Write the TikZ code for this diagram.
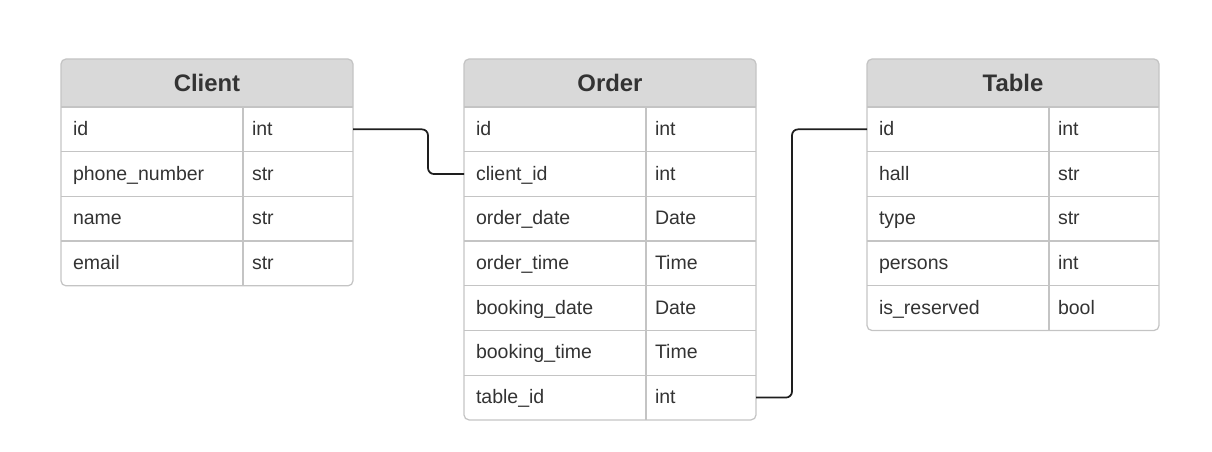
\documentclass[tikz,border=0pt]{standalone}
\usepackage{fontspec}
\setmainfont{Liberation Sans}
\usetikzlibrary{positioning}

\definecolor{hdrgray}{HTML}{D9D9D9}
\definecolor{linegray}{HTML}{C4C4C4}
\definecolor{txtgray}{HTML}{333333}
\definecolor{conngray}{HTML}{1E1E1E}

\tikzset{
  hdrcell/.style={anchor=north west, minimum width=5.84cm, minimum height=0.96cm, inner sep=0, outer sep=0, text=txtgray, font=\fontsize{13.6}{16}\selectfont\bfseries},
  fieldcell/.style={anchor=north west, minimum height=0.894cm, text width=3.16cm, text height=0.9em, text depth=0.2em, inner xsep=0.24cm, inner ysep=0, outer sep=0, align=left, text=txtgray, font=\fontsize{11.1}{13}\selectfont},
  typecell/.style={minimum height=0.894cm, text width=1.84cm, text height=0.9em, text depth=0.2em, inner xsep=0.18cm, inner ysep=0, outer sep=0, align=left, text=txtgray, font=\fontsize{11.1}{13}\selectfont},
  gridline/.style={linegray, line width=0.025cm},
  conn/.style={conngray, line width=0.035cm, rounded corners=0.12cm}
}

\begin{document}
\begin{tikzpicture}

\useasboundingbox (0,0) rectangle (24.24,-9.04);

% Client
\node[hdrcell] (client-hdr) at (1.22,-1.18) {Client};
\foreach \fname/\ftype [count=\i] in {id/int, phone\_number/str, name/str, email/str}{
  \node[fieldcell] (client-\i) at ([yshift={-(\i-1)*0.894cm}]client-hdr.south west) {\fname};
  \node[typecell, right=0 of client-\i] (client-\i t) {\ftype};
}
\fill[hdrgray] (client-hdr.south west) [rounded corners=0.1cm] -- (client-hdr.north west) -- (client-hdr.north east) [sharp corners] -- (client-hdr.south east) -- cycle;
\node[hdrcell] at (client-hdr.north west) {Client};
\foreach \i in {1,...,4}{
  \draw[gridline] (client-\i.north west) -- (client-\i t.north east);
}
\draw[gridline] (client-1t.north west) -- (client-4t.south west);
\draw[gridline, rounded corners=0.1cm] (client-hdr.north west) rectangle (client-4t.south east);

% Order
\node[hdrcell] (order-hdr) at (9.28,-1.18) {Order};
\foreach \fname/\ftype [count=\i] in {id/int, client\_id/int, order\_date/Date, order\_time/Time, booking\_date/Date, booking\_time/Time, table\_id/int}{
  \node[fieldcell] (order-\i) at ([yshift={-(\i-1)*0.894cm}]order-hdr.south west) {\fname};
  \node[typecell, right=0 of order-\i] (order-\i t) {\ftype};
}
\fill[hdrgray] (order-hdr.south west) [rounded corners=0.1cm] -- (order-hdr.north west) -- (order-hdr.north east) [sharp corners] -- (order-hdr.south east) -- cycle;
\node[hdrcell] at (order-hdr.north west) {Order};
\foreach \i in {1,...,7}{
  \draw[gridline] (order-\i.north west) -- (order-\i t.north east);
}
\draw[gridline] (order-1t.north west) -- (order-7t.south west);
\draw[gridline, rounded corners=0.1cm] (order-hdr.north west) rectangle (order-7t.south east);

% Table
\node[hdrcell] (table-hdr) at (17.34,-1.18) {Table};
\foreach \fname/\ftype [count=\i] in {id/int, hall/str, type/str, persons/int, is\_reserved/bool}{
  \node[fieldcell] (table-\i) at ([yshift={-(\i-1)*0.894cm}]table-hdr.south west) {\fname};
  \node[typecell, right=0 of table-\i] (table-\i t) {\ftype};
}
\fill[hdrgray] (table-hdr.south west) [rounded corners=0.1cm] -- (table-hdr.north west) -- (table-hdr.north east) [sharp corners] -- (table-hdr.south east) -- cycle;
\node[hdrcell] at (table-hdr.north west) {Table};
\foreach \i in {1,...,5}{
  \draw[gridline] (table-\i.north west) -- (table-\i t.north east);
}
\draw[gridline] (table-1t.north west) -- (table-5t.south west);
\draw[gridline, rounded corners=0.1cm] (table-hdr.north west) rectangle (table-5t.south east);

% links
\draw[conn] (client-1t.east) -- ++(1.5,0) |- (order-2.west);
\draw[conn] (order-7t.east) -- ++(0.72,0) |- (table-1.west);

\end{tikzpicture}
\end{document}
